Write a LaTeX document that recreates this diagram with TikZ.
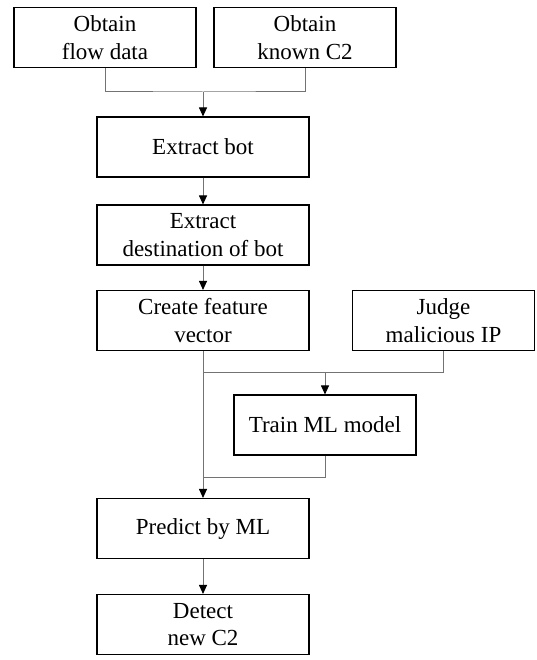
\documentclass[tikz,border=0pt]{standalone}
\usepackage{fontspec}
\setmainfont{Liberation Serif}
\usetikzlibrary{arrows.meta,positioning}

\begin{document}
\begin{tikzpicture}[
						x=1pt,
						y=-1pt,
						font=\fontsize{23}{27.5}\selectfont,
						stepbox/.style={draw, line width=1.1pt, align=center, minimum width=212pt, minimum height=60pt, inner sep=0pt},
						sidebox/.style={stepbox, minimum width=182pt},
						link/.style={draw=gray!90!black, line width=1pt},
						flow/.style={link, -{Triangle[black,width=8pt,length=9pt]}}
					]
					\useasboundingbox (0,0) rectangle (536,660);
					% first row
					\node[sidebox] (flowdata) at (105,37.5) {Obtain\\flow data};
					\node[sidebox] (knownctwo) at (305,37.5) {Obtain\\known C2};
					% main column
					\node[stepbox] (extractbot) at (203,147) {Extract bot};
					\node[stepbox] (destination) at (203,235) {Extract\\destination of bot};
					\node[stepbox] (featvec) at (203,320.5) {Create feature\\vector};
					\node[sidebox] (judge) at (443.5,320.5) {Judge\\malicious IP};
					\node[sidebox] (train) at (325,425) {Train ML model};
					\node[stepbox] (predict) at (203,528.5) {Predict by ML};
					\node[stepbox] (detect) at (203,624.5) {Detect\\new C2};
					% junctions
					\coordinate (mergeA) at (extractbot.north |- 0,92);
					\coordinate (mergeB) at (train.north |- 0,372);
					\coordinate (mergeC) at (featvec.south |- 0,477);
					% connectors
					\draw[link] (flowdata.south) |- (mergeA) -| (knownctwo.south);
					\draw[flow] (mergeA) -- (extractbot.north);
					\draw[flow] (extractbot.south) -- (destination.north);
					\draw[flow] (destination.south) -- (featvec.north);
					\draw[link] (featvec.south |- mergeB) -| (judge.south);
					\draw[flow] (mergeB) -- (train.north);
					\draw[link] (train.south) |- (mergeC);
					\draw[flow] (featvec.south) -- (predict.north);
					\draw[flow] (predict.south) -- (detect.north);
				\end{tikzpicture}
\end{document}
